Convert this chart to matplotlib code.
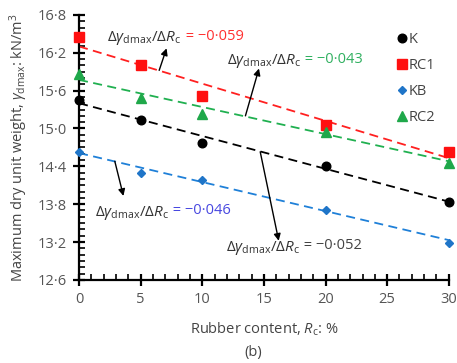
import numpy as np
import matplotlib
matplotlib.use("Agg")
import matplotlib.pyplot as plt
from matplotlib.ticker import MultipleLocator, FuncFormatter

plt.rcParams['font.family'] = ['Open Sans', 'DejaVu Sans']
plt.rcParams['mathtext.fontset'] = 'custom'
plt.rcParams['mathtext.rm'] = 'Open Sans'
plt.rcParams['mathtext.it'] = 'Open Sans:italic'

rubber = [0, 5, 10, 20, 30]
series = ['K', 'RC1', 'KB', 'RC2']
gamma_k = [15.45, 15.14, 14.77, 14.41, 13.84]
gamma_rc1 = [16.45, 16.01, 15.52, 15.06, 14.63]
gamma_kb = [14.63, 14.30, 14.18, 13.71, 13.19]
gamma_rc2 = [15.86, 15.48, 15.23, 14.95, 14.46]
slopes = [-0.052, -0.059, -0.046, -0.043]
intercepts = [15.40, 16.30, 14.61, 15.77]

colors = ['black', '#ff1010', '#1f75c8', '#1fa84a']
line_colors = ['black', '#ff2020', '#1f80d8', '#20b050']
markers = ['o', 's', 'D', '^']
msizes = [6.2, 6.5, 4.5, 6.8]
value_colors = ['#444444', '#ff3030', '#4848e0', '#30b060']

fig = plt.figure(figsize=(4.57, 3.63), dpi=100)
ax = fig.add_axes([0.173, 0.229, 0.809, 0.730])

xs = np.array([0, 30])
for i, ys in enumerate([gamma_k, gamma_rc1, gamma_kb, gamma_rc2]):
    ax.plot(xs, intercepts[i] + slopes[i] * xs, ls=(0, (5, 3)), color=line_colors[i], lw=1.3)
for i, ys in enumerate([gamma_k, gamma_rc1, gamma_kb, gamma_rc2]):
    ax.plot(rubber, ys, ls='none', marker=markers[i], color=colors[i], ms=msizes[i],
            label=series[i], clip_on=False, zorder=5)

ax.set_xlim(0, 30)
ax.set_ylim(12.6, 16.8)
ax.xaxis.set_major_locator(MultipleLocator(5))
ax.xaxis.set_minor_locator(MultipleLocator(1))
ax.yaxis.set_major_locator(MultipleLocator(0.6))
ax.yaxis.set_minor_locator(MultipleLocator(0.1))
ax.yaxis.set_major_formatter(FuncFormatter(lambda v, p: f'{v:.1f}'.replace('.', '·')))
for s in ['top', 'right']:
    ax.spines[s].set_visible(False)
for s in ['left', 'bottom']:
    ax.spines[s].set_linewidth(1.6)
ax.tick_params(which='major', direction='inout', length=9, width=1.6, labelsize=10.5,
               labelcolor='#555555', pad=4)
ax.tick_params(which='minor', direction='in', length=4, width=1.2)

ax.set_xlabel(r'Rubber content, $R_{\rm c}$: %', fontsize=10.5, color='#444444', labelpad=10)
ax.set_ylabel(r'Maximum dry unit weight, $\gamma_{\rm dmax}$: kN/m$^3$', fontsize=10.5,
              color='#444444', labelpad=6)
fig.text(0.555, 0.018, '(b)', ha='center', fontsize=10.5, color='#444444')

leg = ax.legend(loc='upper right', frameon=False, handletextpad=0.0, handlelength=1.0,
                labelspacing=0.75, fontsize=10.5, bbox_to_anchor=(1.0, 0.985))
for t in leg.get_texts():
    t.set_color('#444444')

# slope labels with arrows pointing at the fitted lines
ratio = r'$\Delta\gamma_{\rm dmax}/\Delta R_{\rm c}$'
arrows = [
    # (tail x, tail y, head x, head y)
    (14.7, 14.63, 16.2, 13.22),   # K
    (6.5, 15.92, 7.1, 16.27),     # RC1
    (2.9, 14.48, 3.6, 13.93),     # KB
    (13.5, 15.2, 14.6, 15.95),    # RC2
]
text_pos = [(11.9, 12.97), (2.3, 16.29), (1.3, 13.52), (12.0, 15.92)]
for i in range(4):
    x0, y0, x1, y1 = arrows[i]
    ax.annotate('', xy=(x1, y1), xytext=(x0, y0),
                arrowprops=dict(arrowstyle='-|>', color='black', lw=1.0,
                                mutation_scale=10, shrinkA=0, shrinkB=0))
    px, py = text_pos[i]
    t1 = ax.text(px, py, ratio, fontsize=11, color='#333333', va='bottom', ha='left')
    ax.annotate(' = −0·' + f'{abs(slopes[i]):.3f}'[2:], xy=(1, 0), xycoords=t1,
                xytext=(0, 2.5), textcoords='offset points',
                va='bottom', ha='left', fontsize=10.5, color=value_colors[i])

fig.savefig('out.png', dpi=100)
